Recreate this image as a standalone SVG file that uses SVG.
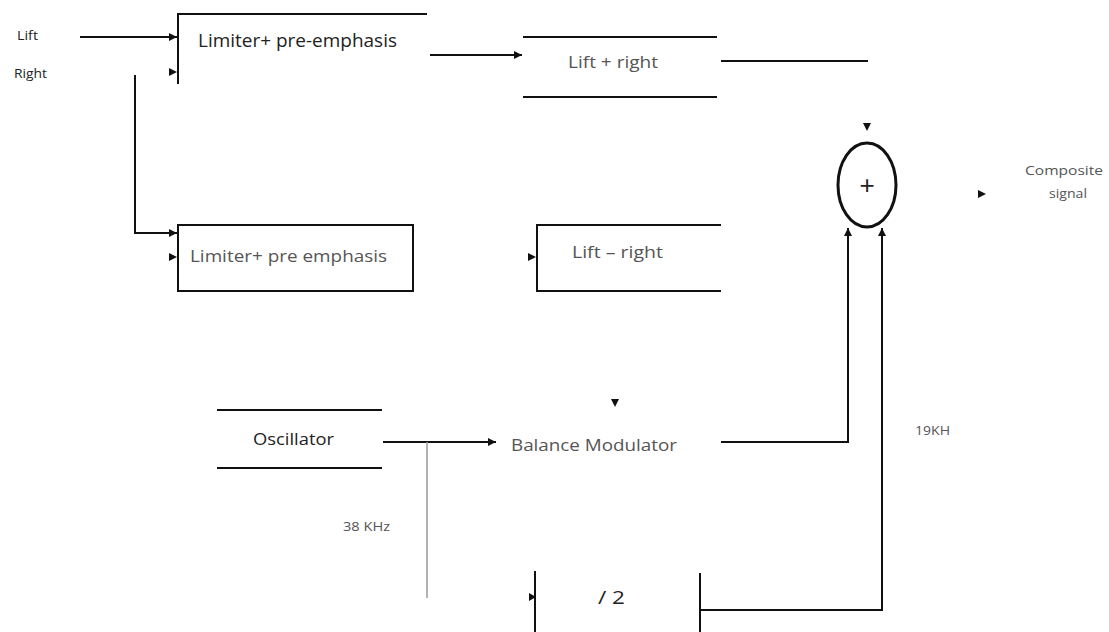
<svg xmlns="http://www.w3.org/2000/svg" width="1109" height="632" viewBox="0 0 1109 632">
<style>
.ln{stroke:#111;stroke-width:2;fill:none}
.gr{stroke:#999;stroke-width:1.5;fill:none}
.t{font-family:"Open Sans","Liberation Sans",sans-serif;fill:#222}
.f{fill:#555}
.ah{fill:#111}
</style>
<defs>
<marker id="arrL" viewBox="0 0 10 10" refX="10" refY="5" markerWidth="9" markerHeight="8" markerUnits="userSpaceOnUse" orient="auto">
<path d="M0,0 L10,5 L0,10 z" fill="#111"/>
</marker>
</defs>
<rect width="1109" height="632" fill="#fff"/>

<g id="inputs">
<text class="t" x="17" y="40" font-size="13" textLength="21" lengthAdjust="spacingAndGlyphs">Lift</text>
<text class="t" x="14" y="78" font-size="13" textLength="33" lengthAdjust="spacingAndGlyphs">Right</text>
</g>

<g id="limiter1">
<path class="ln" d="M178,84 V14 H427"/>
<text class="t" x="198" y="47" font-size="18" textLength="199" lengthAdjust="spacingAndGlyphs">Limiter+ pre-emphasis</text>
</g>

<g id="liftplus">
<line class="ln" x1="523" y1="37" x2="717" y2="37"/>
<line class="ln" x1="523" y1="97" x2="717" y2="97"/>
<text class="t f" x="568" y="68" font-size="17" textLength="90" lengthAdjust="spacingAndGlyphs">Lift + right</text>
</g>

<g id="summer">
<ellipse cx="867" cy="185" rx="29" ry="42" fill="none" stroke="#111" stroke-width="3"/>
<text x="867" y="194" font-family="Liberation Sans, sans-serif" font-size="26" fill="#222" text-anchor="middle">+</text>
</g>

<g id="output">
<text class="t f" x="1064" y="175" font-size="13" text-anchor="middle" textLength="78" lengthAdjust="spacingAndGlyphs">Composite</text>
<text class="t f" x="1068" y="198" font-size="13" text-anchor="middle" textLength="38" lengthAdjust="spacingAndGlyphs">signal</text>
</g>

<g id="limiter2">
<rect class="ln" x="178" y="225" width="235" height="66"/>
<text class="t f" x="190" y="262" font-size="17" textLength="197" lengthAdjust="spacingAndGlyphs">Limiter+ pre emphasis</text>
</g>

<g id="liftminus">
<path class="ln" d="M721,225 H537 V291 H721"/>
<text class="t f" x="572" y="258" font-size="16" textLength="91" lengthAdjust="spacingAndGlyphs">Lift – right</text>
</g>

<g id="oscillator">
<line class="ln" x1="217" y1="410" x2="382" y2="410"/>
<line class="ln" x1="217" y1="468" x2="382" y2="468"/>
<text class="t" x="253" y="445" font-size="17" textLength="81" lengthAdjust="spacingAndGlyphs">Oscillator</text>
</g>

<g id="modulator">
<text class="t f" x="511" y="451" font-size="16" textLength="166" lengthAdjust="spacingAndGlyphs">Balance Modulator</text>
</g>

<g id="divider">
<line class="ln" x1="535" y1="571" x2="535" y2="632"/>
<line class="ln" x1="700" y1="573" x2="700" y2="632"/>
<text class="t" x="598" y="604" font-size="19" textLength="27" lengthAdjust="spacingAndGlyphs">/ 2</text>
</g>

<g id="labels">
<text class="t f" x="343" y="531" font-size="12" textLength="47" lengthAdjust="spacingAndGlyphs">38 KHz</text>
<text class="t f" x="915" y="435" font-size="12" textLength="35" lengthAdjust="spacingAndGlyphs">19KH</text>
</g>

<g id="connectors">
<line class="ln" x1="80" y1="37" x2="177" y2="37" marker-end="url(#arrL)"/>
<path class="ah" d="M169,68 L177,72 L169,76 z"/>
<line class="ln" x1="430" y1="55" x2="522" y2="55" marker-end="url(#arrL)"/>
<line class="ln" x1="721" y1="61" x2="868" y2="61"/>
<path class="ah" d="M863,123 L871,123 L867,131 z"/>
<path class="ln" d="M135,75 V233 H177" marker-end="url(#arrL)"/>
<path class="ah" d="M169,253 L177,257 L169,261 z"/>
<path class="ah" d="M528,253 L536,257 L528,261 z"/>
<path class="ah" d="M611,399 L619,399 L615,407 z"/>
<line class="ln" x1="383" y1="442" x2="496" y2="442" marker-end="url(#arrL)"/>
<line class="gr" x1="427" y1="442" x2="427" y2="598"/>
<path class="ln" d="M721,442 H848 V228" marker-end="url(#arrL)"/>
<path class="ln" d="M700,610 H882 V228" marker-end="url(#arrL)"/>
<path class="ah" d="M529,593 L536,597 L529,601 z"/>
<path class="ah" d="M978,190 L986,194 L978,198 z"/>
</g>
</svg>
